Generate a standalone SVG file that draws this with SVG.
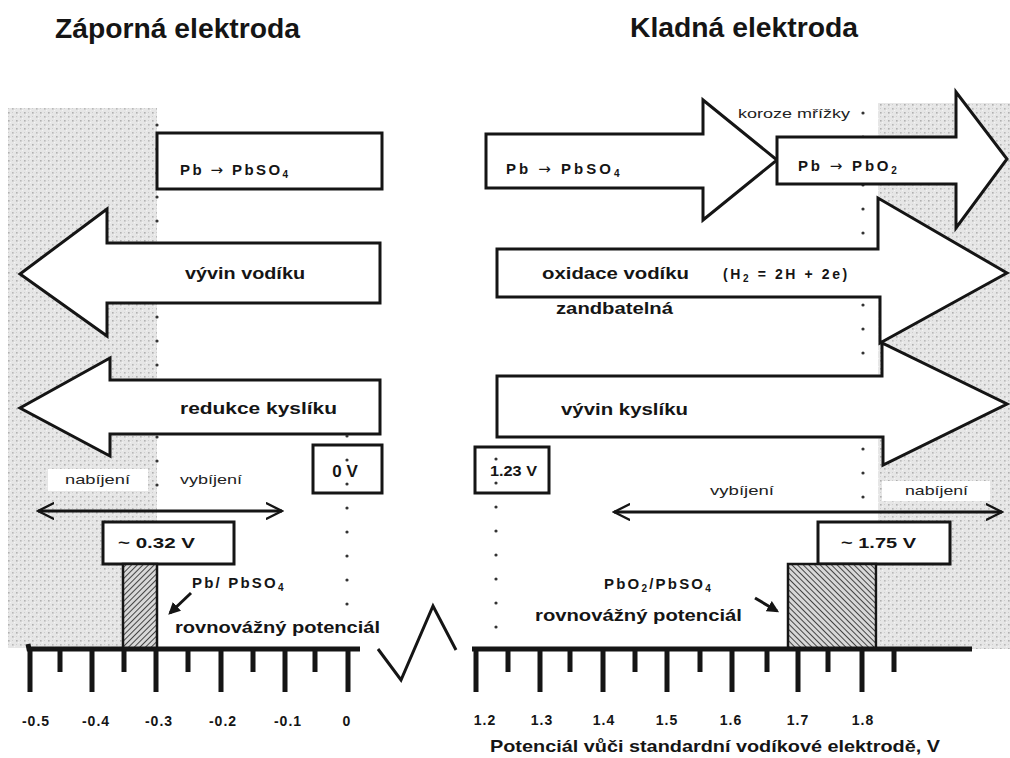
<svg xmlns="http://www.w3.org/2000/svg" width="1010" height="758" viewBox="0 0 1010 758">
<style>
.t{font-family:"Liberation Sans",Arial,sans-serif;font-weight:bold;fill:#151515}
.n{font-family:"Liberation Sans",Arial,sans-serif;fill:#222}
.ar{font-family:"DejaVu Sans",sans-serif;font-weight:normal}
.sh{fill:#fff;stroke:#151515;stroke-width:3;stroke-linejoin:miter}
.dot{fill:none;stroke:#333;stroke-width:3.2;stroke-linecap:round;stroke-dasharray:0 24}
.ax{stroke:#151515;stroke-width:5;fill:none}
.ln{stroke:#151515;stroke-width:3;fill:none}
</style>
<defs>
<pattern id="stip" width="8" height="8" patternUnits="userSpaceOnUse">
<rect width="8" height="8" fill="#e6e6e6"/>
<rect x="0" y="0" width="1.6" height="1.6" fill="#b0b0b0"/>
<rect x="4" y="4" width="1.6" height="1.6" fill="#b8b8b8"/>
<rect x="4" y="0" width="1" height="1" fill="#cdcdcd"/>
<rect x="0" y="4" width="1" height="1" fill="#cdcdcd"/>
<rect x="2" y="2" width="1.2" height="1.2" fill="#f4f4f4"/>
<rect x="6" y="6" width="1.2" height="1.2" fill="#f4f4f4"/>
</pattern>
<pattern id="hatchL" width="4" height="4" patternUnits="userSpaceOnUse" patternTransform="rotate(45)">
<rect width="4" height="4" fill="#d8d8d8"/>
<line x1="0" y1="0" x2="0" y2="4" stroke="#333" stroke-width="1.8"/>
</pattern>
<pattern id="hatchR" width="4" height="4" patternUnits="userSpaceOnUse" patternTransform="rotate(-45)">
<rect width="4" height="4" fill="#d8d8d8"/>
<line x1="0" y1="0" x2="0" y2="4" stroke="#333" stroke-width="1.8"/>
</pattern>
<marker id="fa" viewBox="0 0 10 10" refX="8" refY="5" markerWidth="4" markerHeight="4" orient="auto">
<path d="M0,0 L10,5 L0,10 z" fill="#151515"/>
</marker>
<marker id="ch" viewBox="0 0 10 10" refX="9" refY="5" markerWidth="6" markerHeight="6" orient="auto-start-reverse">
<path d="M0,0.5 L9,5 L0,9.5" fill="none" stroke="#151515" stroke-width="1.3"/>
</marker>
</defs>

<rect width="1010" height="758" fill="#fff"/>

<g id="background">
<rect x="8" y="108" width="149" height="540" fill="url(#stip)"/>
<rect x="878" y="103" width="132" height="546" fill="url(#stip)"/>
<rect x="48" y="469" width="100" height="22" fill="#fff"/>
<rect x="882" y="481" width="108" height="20" fill="#fff"/>
</g>

<g id="titles">
<text class="t" x="55" y="38" font-size="27" textLength="245" lengthAdjust="spacingAndGlyphs">Záporná elektroda</text>
<text class="t" x="630" y="37" font-size="27" textLength="228" lengthAdjust="spacingAndGlyphs">Kladná elektroda</text>
</g>

<g id="guides-under">
<line class="dot" x1="157" y1="125" x2="157" y2="490"/>
<line class="dot" x1="863" y1="113" x2="863" y2="500"/>
</g>

<g id="neg-pb-pbso4">
<rect class="sh" x="157" y="133" width="225" height="56"/>
<text class="t" x="180" y="175" font-size="15" letter-spacing="2.4">Pb <tspan class="ar">→</tspan> PbSO<tspan font-size="10" dy="3">4</tspan></text>
</g>

<g id="neg-vyvin-vodiku">
<polygon class="sh" points="380,243 107,243 107,209 20,274 107,336 107,303 380,303"/>
<text class="t" x="185" y="279" font-size="17" textLength="120" lengthAdjust="spacingAndGlyphs">vývin vodíku</text>
</g>

<g id="neg-redukce-kysliku">
<polygon class="sh" points="380,380 110,380 110,358 20,408 110,456 110,434 380,434"/>
<text class="t" x="180" y="414" font-size="17" textLength="157" lengthAdjust="spacingAndGlyphs">redukce kyslíku</text>
</g>

<g id="neg-zero">
<rect class="sh" x="313" y="445" width="69" height="48"/>
<text class="t" x="345" y="477" font-size="17" text-anchor="middle">0 V</text>
</g>

<g id="neg-labels">
<text class="n" x="65" y="484" font-size="13" textLength="65" lengthAdjust="spacingAndGlyphs">nabíjení</text>
<text class="n" x="180" y="484" font-size="13" textLength="62" lengthAdjust="spacingAndGlyphs">vybíjení</text>
</g>

<g id="neg-032">
<rect class="sh" x="103" y="522" width="131" height="42"/>
<text class="t" x="118" y="548" font-size="14" textLength="77" lengthAdjust="spacingAndGlyphs">~ 0.32 V</text>
</g>

<g id="neg-hatch">
<rect x="123" y="564" width="34" height="85" fill="url(#hatchL)" stroke="#151515" stroke-width="2.5"/>
</g>

<g id="neg-equilibrium">
<text class="t" x="192" y="588" font-size="15" letter-spacing="2.2">Pb/ PbSO<tspan font-size="10" dy="3">4</tspan></text>
<text class="t" x="175" y="633" font-size="17" textLength="205" lengthAdjust="spacingAndGlyphs">rovnovážný potenciál</text>
</g>

<g id="pos-pb-pbso4">
<polygon class="sh" points="486,134 703,134 703,100 777,160 703,220 703,188 486,188"/>
<text class="t" x="506" y="174" font-size="15" letter-spacing="3">Pb <tspan class="ar">→</tspan> PbSO<tspan font-size="10" dy="3">4</tspan></text>
</g>

<g id="pos-pb-pbo2">
<polygon class="sh" points="777,137 956,137 956,92 1007,159 956,228 956,184 777,184"/>
<text class="t" x="798" y="171" font-size="15" letter-spacing="2.8">Pb <tspan class="ar">→</tspan> PbO<tspan font-size="10" dy="3">2</tspan></text>
<text class="n" x="738" y="118" font-size="13" textLength="112" lengthAdjust="spacingAndGlyphs">koroze mřížky</text>
</g>

<g id="pos-oxidace-vodiku">
<polygon class="sh" points="497,249 878,249 878,198 1007,273 880,343 880,297 497,297"/>
<text class="t" x="542" y="279" font-size="17" textLength="147" lengthAdjust="spacingAndGlyphs">oxidace vodíku</text>
<text class="t" x="723" y="279" font-size="14" letter-spacing="2.6" xml:space="preserve">(H<tspan font-size="10" dy="3">2</tspan><tspan dy="-3"> = 2H + 2e)</tspan></text>
<text class="t" x="556" y="314" font-size="16" textLength="117" lengthAdjust="spacingAndGlyphs">zandbatelná</text>
</g>

<g id="pos-vyvin-kysliku">
<polygon class="sh" points="497,376 882,376 882,343 1007,404 883,465 883,437 497,437"/>
<text class="t" x="561" y="415" font-size="17" textLength="127" lengthAdjust="spacingAndGlyphs">vývin kyslíku</text>
</g>

<g id="pos-123">
<rect class="sh" x="475" y="447" width="74" height="46"/>
<text class="t" x="490" y="476" font-size="14" textLength="47" lengthAdjust="spacingAndGlyphs">1.23 V</text>
</g>

<g id="pos-labels">
<text class="n" x="710" y="495" font-size="13" textLength="64" lengthAdjust="spacingAndGlyphs">vybíjení</text>
<text class="n" x="905" y="495" font-size="13" textLength="63" lengthAdjust="spacingAndGlyphs">nabíjení</text>
</g>

<g id="pos-175">
<rect class="sh" x="818" y="522" width="132" height="42"/>
<text class="t" x="841" y="548" font-size="14" textLength="75" lengthAdjust="spacingAndGlyphs">~ 1.75 V</text>
</g>

<g id="pos-hatch">
<rect x="788" y="564" width="88" height="85" fill="url(#hatchR)" stroke="#151515" stroke-width="2.5"/>
</g>

<g id="pos-equilibrium">
<text class="t" x="604" y="589" font-size="15" letter-spacing="2.2">PbO<tspan font-size="10" dy="3">2</tspan><tspan dy="-3">/PbSO</tspan><tspan font-size="10" dy="3">4</tspan></text>
<text class="t" x="535" y="621" font-size="17" textLength="207" lengthAdjust="spacingAndGlyphs">rovnovážný potenciál</text>
</g>

<g id="connectors">
<line class="dot" x1="347" y1="436" x2="347" y2="606"/>
<line class="dot" x1="496" y1="459" x2="496" y2="630"/>
<line class="ln" x1="38" y1="511" x2="282" y2="511" marker-start="url(#ch)" marker-end="url(#ch)"/>
<line class="ln" x1="614" y1="512" x2="1002" y2="512" marker-start="url(#ch)" marker-end="url(#ch)"/>
<line class="ln" x1="191" y1="593" x2="170" y2="613" marker-end="url(#fa)"/>
<line class="ln" x1="755" y1="598" x2="777" y2="611" marker-end="url(#fa)"/>
</g>

<g id="axis-neg">
<path class="ax" d="M28,644 L29,649 L360,649"/>
<path class="ax" d="M30,649 V692 M92,649 V692 M156,649 V692 M221,649 V692 M285,649 V692 M348,649 V692"/>
<path class="ax" d="M60,649 V672 M124,649 V672 M188,649 V672 M253,649 V672 M315,649 V672"/>
<g class="t" font-size="14" text-anchor="middle" letter-spacing="1">
<text x="36" y="726">-0.5</text>
<text x="96" y="726">-0.4</text>
<text x="159" y="726">-0.3</text>
<text x="223" y="726">-0.2</text>
<text x="288" y="726">-0.1</text>
<text x="347" y="726">0</text>
</g>
</g>

<g id="axis-break">
<polyline points="378,649 401,680 433,606 456,650" fill="none" stroke="#151515" stroke-width="3"/>
</g>

<g id="axis-pos">
<path class="ax" d="M472,649 L972,649"/>
<path class="ax" d="M476,649 V692 M540,649 V692 M603,649 V692 M667,649 V692 M732,649 V692 M798,649 V692 M862,649 V692"/>
<path class="ax" d="M508,649 V672 M570,649 V672 M635,649 V672 M700,649 V672 M767,649 V672 M828,649 V672 M894,649 V672"/>
<g class="t" font-size="14" text-anchor="middle" letter-spacing="1">
<text x="485" y="725">1.2</text>
<text x="542" y="725">1.3</text>
<text x="604" y="725">1.4</text>
<text x="667" y="725">1.5</text>
<text x="731" y="725">1.6</text>
<text x="798" y="725">1.7</text>
<text x="863" y="725">1.8</text>
</g>
<text class="t" x="490" y="752" font-size="17" textLength="450" lengthAdjust="spacingAndGlyphs">Potenciál vůči standardní vodíkové elektrodě, V</text>
</g>
</svg>
